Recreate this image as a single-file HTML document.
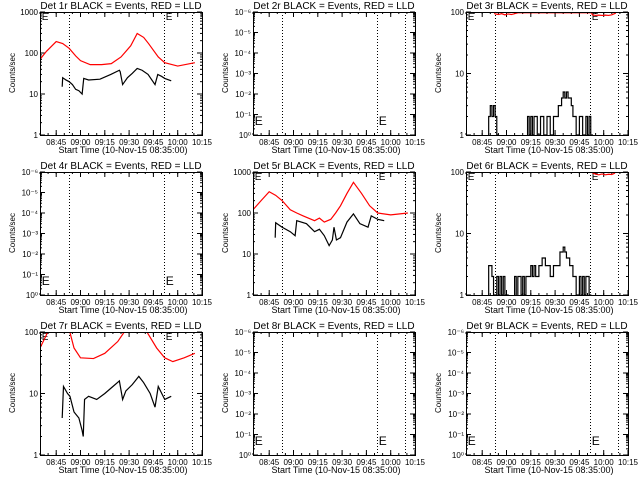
<!DOCTYPE html>
<html><head><meta charset="utf-8">
<style>
html,body{margin:0;padding:0;background:#fff;}
svg{display:block;font-family:"Liberation Sans",sans-serif;}
</style></head>
<body>
<svg id="c" width="640" height="480" viewBox="0 0 640 480" xmlns="http://www.w3.org/2000/svg">
<rect x="0" y="0" width="640" height="480" fill="#fff"/>
</svg>
<script>
// time in minutes after 08:35:00
const dottedTimes = [18, 76.5, 93.8];
const xTickLabels = ["08:45","09:00","09:15","09:30","09:45","10:00","10:15"];
const xTickMins = [10,25,40,55,70,85,100];
const logTickLabels = ["1","10","100","1000"];
const emptyTickLabels = ["10⁰","10⁻¹","10⁻²","10⁻³","10⁻⁴","10⁻⁵","10⁻⁶"];

// Det 1r
const d1RedT = [0,4,10,14,18,22,25,31,38,44,50,56,60,64,67,73,77,85,95.6];
const d1RedV = [70,110,190,170,130,85,65,52,52,55,80,150,300,240,170,80,58,48,58];
const d1BlkT = [13.7,14,16,18,20,22,24,26,27,30,37,43.7,49,49.5,51,54,57,60,63,66.7,71,72.7,75,77,81];
const d1BlkV = [15,25,22,20,17,13,12,10,24,22,23,30,38,35,17,25,32,42,38,30,17,30,27,24,21];
// Det 5r
const d5RedT = [0,5,10,14,18,23,27,31,38,41,44,48,51,54,58,62,67,72,77,85,95.6];
const d5RedV = [120,200,330,270,200,120,100,85,65,75,60,70,100,150,300,560,300,150,100,90,100];
const d5BlkT = [13.7,14,18,23,26,27,33,38,41,44,47,49,50,51.5,54,58,62,66,71,73,77,81];
const d5BlkV = [25,58,45,35,28,65,55,35,40,28,16,22,45,22,25,60,95,55,45,85,70,65];
// Det 7r
const d7RedT = [0,4,6,18,21,25,33,40,48,52,56,62,66,72,77,82,89,95.6];
const d7RedV = [55,90,130,110,55,38,37,45,70,100,150,150,100,55,38,33,38,45];
const d7BlkT = [13.7,14.5,17,18.5,21,24,26,26.7,27.5,30,35,40,45,49,51,53,57,61,64,68,71,73,77,81];
const d7BlkV = [4,13,10,9,5,4,2.5,2,8,9,8,10,13,16,8,11,14,19,15,10,6,13,8,9];
// Det 3r (step counts, 0 = none)
const d3BlkT = [0,14,15,16,17,18,19,20,38,39,40,41,42,44,46,48,50,52,54,56,57,59,60,61,62,63,65,66,68,70,72,74,75,76,77,78];
const d3BlkV = [0,2,3,2,3,2,1,0,2,1,2,1,2,1,2,1,2,1,2,2,3,4,5,4,5,4,3,2,1,2,1,2,1,2,1,0];
const d3RedT = [17.5,18,20,22,24,26,28,30,32,77.5,78,80,82,84,86,88,90,92.5];
const d3RedV = [97,93,91,94,90,93,91,94,97,97,90,88,89,88,89,88,90,96];
// Det 6r
const d6BlkT = [0,14,16,17,19,20,21,22,23,24,26,30,31,32,34,35,36,37,38,40,41,42,43,45,47,49,50,52,54,56,58,60,61,62,64,66,68,70,71,72,73,74,76,77,78];
const d6BlkV = [0,3,2,1,2,1,2,1,2,1,0,2,0,2,1,2,1,2,2,3,2,3,2,3,4,3,3,2,3,3,5,6,5,4,3,2,1,2,1,2,1,2,1,0,0];
const d6RedT = [78,80,82,84,86,88,90,92];
const d6RedV = [97,92,90,93,90,92,91,96];

const svg = document.getElementById('c');
const NS = "http://www.w3.org/2000/svg";
function mk(tag, attrs, parent){const e=document.createElementNS(NS,tag);for(const k in attrs)e.setAttribute(k,attrs[k]);(parent||svg).appendChild(e);return e;}

const panels = [
 {n:1,kind:"log",dec:[0,3],red:[d1RedT,d1RedV],blk:[d1BlkT,d1BlkV],step:false},
 {n:2,kind:"empty"},
 {n:3,kind:"log",dec:[0,2],red:[d3RedT,d3RedV],blk:[d3BlkT,d3BlkV],step:true},
 {n:4,kind:"empty"},
 {n:5,kind:"log",dec:[0,3],red:[d5RedT,d5RedV],blk:[d5BlkT,d5BlkV],step:false},
 {n:6,kind:"log",dec:[0,2],red:[d6RedT,d6RedV],blk:[d6BlkT,d6BlkV],step:true},
 {n:7,kind:"log",dec:[0,2],red:[d7RedT,d7RedV],blk:[d7BlkT,d7BlkV],step:false},
 {n:8,kind:"empty"},
 {n:9,kind:"empty"}
];

panels.forEach((p,i)=>{
 const ox=(i%3)*213, oy=Math.floor(i/3)*160;
 const x0=ox+40, x1=ox+202, y0=oy+12, y1=oy+135;
 const g=mk('g',{});
 
 
 const xs=m=>x0+(m/100)*(x1-x0);
 const lo = p.kind==="empty"? -6 : p.dec[0], hi = p.kind==="empty"? 0 : p.dec[1];
 const ys = p.kind==="empty" ? (v=>y1-((Math.log10(v)+6)/6)*(y1-y0)) : (v=>y1-((Math.log10(v)-lo)/(hi-lo))*(y1-y0));
 const cp=mk('clipPath',{id:'cp'+p.n},g); mk('rect',{x:x0,y:y0,width:x1-x0,height:y1-y0},cp);
 const t=mk('text',{x:(x0+x1)/2,y:oy+9,'font-size':10,'text-anchor':'middle',fill:'#000'},g);
 t.textContent='Det '+p.n+'r BLACK = Events, RED = LLD';
 
 
 const yt=mk('text',{x:0,y:0,'font-size':8,'text-anchor':'middle',transform:'translate('+(ox+15)+','+(oy+73)+') rotate(-90)'},g);
 yt.textContent='Counts/sec';
 
 
 const xt=mk('text',{x:(x0+x1)/2+2,y:oy+153,'font-size':9,'text-anchor':'middle'},g);
 xt.textContent='Start Time (10-Nov-15 08:35:00)';
 
 
 xTickMins.forEach((m,k)=>{
  const x=xs(m);
  mk('line',{x1:x,y1:y1,x2:x,y2:y1-5,stroke:'#000','stroke-width':1},g);
  mk('line',{x1:x,y1:y0,x2:x,y2:y0+5,stroke:'#000','stroke-width':1},g);
  const l=mk('text',{x:x,y:oy+145,'font-size':8,'text-anchor':'middle'},g);
  l.textContent=xTickLabels[k];
  
  
 });
 for(let m=0;m<=100;m+=5){const x=xs(m);
  mk('line',{x1:x,y1:y1,x2:x,y2:y1-2,stroke:'#000'},g);mk('line',{x1:x,y1:y0,x2:x,y2:y0+2,stroke:'#000'},g);}
 const labels = p.kind==="empty"? emptyTickLabels : logTickLabels;
 for(let d=lo; d<=hi; d++){
  const y=ys(Math.pow(10,d));
  mk('line',{x1:x0,y1:y,x2:x0+5,y2:y,stroke:'#000'},g);
  mk('line',{x1:x1,y1:y,x2:x1-5,y2:y,stroke:'#000'},g);
  const l=mk('text',{x:x0-2,y:y+3,'font-size':8,'text-anchor':'end'},g);
  l.textContent=labels[d-lo];
  
  
  if(d<hi) for(let k=2;k<10;k++){const yy=ys(k*Math.pow(10,d));
   mk('line',{x1:x0,y1:yy,x2:x0+2,y2:yy,stroke:'#000'},g);mk('line',{x1:x1,y1:yy,x2:x1-2,y2:yy,stroke:'#000'},g);}
 }
 dottedTimes.forEach(m=>{const x=Math.round(xs(m))+0.5;
  const dl=mk('line',{x1:x,y1:y0,x2:x,y2:y1,stroke:'#000','stroke-width':1,'stroke-dasharray':'1,2'},g);
  
  });
 [0.5, 77].forEach(m=>{
  const e=mk('text',{x:xs(m)+1,y:p.kind==="empty"? y1-10 : y0+8,'font-size':p.kind==="empty"?12:10},g);
  e.textContent='E';
  
  
 });
 function series(T,V,color,step,name,w){
  let d='';
  const yv=v=> v<=0 ? y1+10 : ys(v);
  for(let k=0;k<T.length;k++){
   const x=xs(T[k]), y=yv(V[k]);
   if(k===0) d+='M'+x+' '+y;
   else if(step){ d+=' L'+x+' '+yv(V[k-1])+' L'+x+' '+y; }
   else d+=' L'+x+' '+y;
  }
  const pth=mk('path',{d:d,fill:'none',stroke:color,'stroke-width':w,'clip-path':'url(#cp'+p.n+')'},g);
  
  
 }
 if(p.kind==="log"){
  series(p.red[0],p.red[1],'#ff0000',false,'lld-red-line',1.2);
  series(p.blk[0],p.blk[1],'#000',p.step,'events-black-line',1.2);
 }
 const fr=mk('rect',{x:x0+0.5,y:y0+0.5,width:x1-x0,height:y1-y0,fill:'none',stroke:'#000','stroke-width':1},g);
 
 
});
</script>
</body></html>
